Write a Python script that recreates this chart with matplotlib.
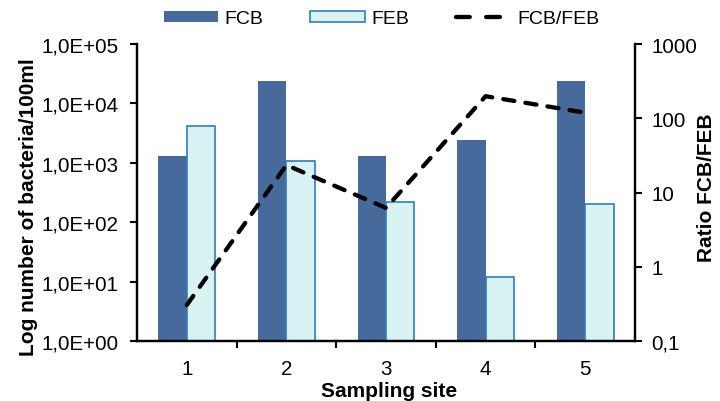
import numpy as np
import matplotlib
matplotlib.use("Agg")
from matplotlib import pyplot as plt
from matplotlib.lines import Line2D
from matplotlib.ticker import FixedLocator, NullLocator

plt.rcParams["font.family"] = ["Liberation Sans", "DejaVu Sans"]

# Data
sites = [1, 2, 3, 4, 5]
fcb = [1290, 23500, 1290, 2400, 23500]
feb = [4200, 1060, 221, 12.1, 203]
ratio = [0.305, 23.4, 6.2, 198, 119]

left_ticks = [1, 10, 100, 1000, 10000, 100000]
left_labels = ["1,0E+00", "1,0E+01", "1,0E+02", "1,0E+03", "1,0E+04", "1,0E+05"]
right_ticks = [0.1, 1, 10, 100, 1000]
right_labels = ["0,1", "1", "10", "100", "1000"]

c_fcb = "#466a9c"
c_feb = "#d9f3f2"
c_feb_edge = "#2e7ebf"

fig = plt.figure(figsize=(7.2, 4.02), dpi=100)
# spines: x 137..635, y 45..342 (pixels)
ax = fig.add_axes([137 / 720, 60 / 402, 498 / 720, 297 / 402])
ax2 = ax.twinx()

x = np.array(sites, dtype=float)
w = 0.285
b1 = ax.bar(x - w / 2, fcb, w, color=c_fcb, label="FCB", zorder=2)
b2 = ax.bar(x + w / 2, feb, w, color=c_feb, edgecolor=c_feb_edge,
            linewidth=1.2, label="FEB", zorder=2)
ax.set_yscale("log")
ax.set_ylim(1, 1e5)
ax.set_xlim(0.5, 5.5)

ax2.plot(x, ratio, color="black", lw=3.1, dashes=(2.6, 2.6),
         dash_capstyle="round", label="FCB/FEB")
ax2.set_yscale("log")
ax2.set_ylim(0.1, 1000)

ax.yaxis.set_major_locator(FixedLocator(left_ticks))
ax.set_yticklabels(left_labels)
ax.yaxis.set_minor_locator(NullLocator())
ax2.yaxis.set_major_locator(FixedLocator(right_ticks))
ax2.set_yticklabels(right_labels)
ax2.yaxis.set_minor_locator(NullLocator())

# x ticks sit between the sites, labels at the centres
ax.set_xticks([1.5, 2.5, 3.5, 4.5])
ax.set_xticklabels([])
ax.set_xticks(sites, minor=True)
ax.set_xticklabels([str(s) for s in sites], minor=True)
ax.tick_params(axis="x", which="minor", length=0, labelsize=14.8, pad=13)
ax.tick_params(axis="x", which="major", direction="out", length=5, width=1.5)

ax.tick_params(axis="y", direction="out", length=5, width=1.5, labelsize=14.8, pad=8)
ax2.tick_params(axis="y", direction="out", length=5, width=1.5, labelsize=14.8, pad=7)

for a in (ax, ax2):
    a.spines["top"].set_visible(False)
    for s in ("left", "right", "bottom"):
        a.spines[s].set_linewidth(1.6)

ax.set_ylabel("Log number of bacteria/100ml", fontsize=15, fontweight="bold")
ax.yaxis.set_label_coords(-0.198, 0.453)
ax2.set_ylabel("Ratio FCB/FEB", fontsize=15, fontweight="bold")
ax2.yaxis.set_label_coords(1.125, 0.52)
ax.set_xlabel("Sampling site", fontsize=15, fontweight="bold")
ax.xaxis.set_label_coords(0.506, -0.136)

# legend line shows two longer dashes, like the reference
ln_proxy = Line2D([], [], color="black", lw=3.1, dashes=(3.2, 3.8),
                  dash_capstyle="round")
fig.legend([b1, b2, ln_proxy], ["FCB", "FEB", "FCB/FEB"], loc="center",
           bbox_to_anchor=(0.53, 1 - 20 / 402), ncol=3, frameon=False,
           fontsize=14, handlelength=2.8, handleheight=0.5,
           columnspacing=2.4, handletextpad=0.35, borderpad=0)

fig.savefig("out.png", dpi=100)
